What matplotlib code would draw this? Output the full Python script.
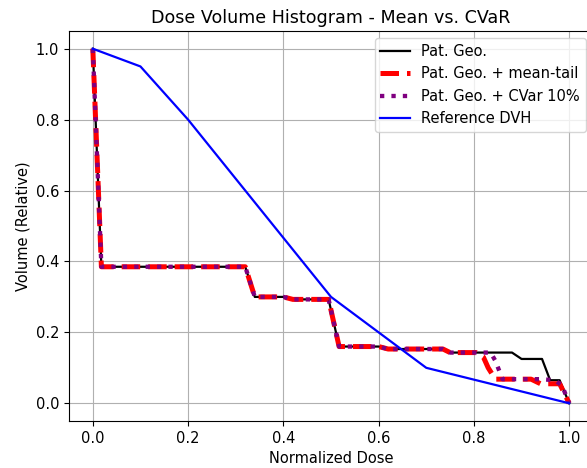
import matplotlib
matplotlib.use("Agg")
import matplotlib.pyplot as plt

# Pat. Geo. DVH
geo_dose = [0.0, 0.018, 0.32, 0.34, 0.40, 0.42, 0.495, 0.517, 0.60, 0.62,
            0.735, 0.75, 0.88, 0.90, 0.943, 0.96, 0.98, 1.0]
geo_vol = [1.0, 0.385, 0.385, 0.30, 0.30, 0.293, 0.293, 0.16, 0.16, 0.153,
           0.153, 0.143, 0.143, 0.125, 0.125, 0.065, 0.065, 0.0]

# Pat. Geo. + mean-tail
mean_dose = [0.0, 0.018, 0.32, 0.34, 0.40, 0.42, 0.495, 0.517, 0.60, 0.62,
             0.735, 0.75, 0.805, 0.82, 0.83, 0.845, 0.92, 0.94, 0.98, 1.0]
mean_vol = [1.0, 0.385, 0.385, 0.30, 0.30, 0.293, 0.293, 0.16, 0.16, 0.153,
            0.153, 0.143, 0.143, 0.13, 0.10, 0.068, 0.068, 0.055, 0.055, 0.0]

# Pat. Geo. + CVar 10%
cvar_dose = [0.0, 0.018, 0.32, 0.34, 0.40, 0.42, 0.495, 0.517, 0.60, 0.62,
             0.735, 0.75, 0.835, 0.845, 0.86, 0.94, 0.97, 0.985, 1.0]
cvar_vol = [1.0, 0.385, 0.385, 0.30, 0.30, 0.293, 0.293, 0.16, 0.16, 0.153,
            0.153, 0.143, 0.143, 0.12, 0.068, 0.068, 0.065, 0.05, 0.0]

# Reference DVH
ref_dose = [0.0, 0.1, 0.2, 0.5, 0.7, 1.0]
ref_vol = [1.0, 0.95, 0.8, 0.3, 0.1, 0.0]

plt.rcParams["font.size"] = 10.5

fig = plt.figure(figsize=(5.87, 4.68), dpi=100)
ax = fig.add_axes([69 / 587, 47 / 468, 524 / 587, 390 / 468])

ax.plot(geo_dose, geo_vol, color="black", lw=1.6, label="Pat. Geo.")
ax.plot(mean_dose, mean_vol, color="red", ls="--", lw=3.6, label="Pat. Geo. + mean-tail")
ax.plot(cvar_dose, cvar_vol, color="purple", ls=":", lw=3.1, label="Pat. Geo. + CVar 10%")
ax.plot(ref_dose, ref_vol, color="blue", lw=1.6, label="Reference DVH")

ax.set_title("Dose Volume Histogram - Mean vs. CVaR")
ax.set_xlabel("Normalized Dose")
ax.set_ylabel("Volume (Relative)")
ax.grid(True)
ax.legend(loc="upper right")

fig.savefig("out.png", dpi=100)
